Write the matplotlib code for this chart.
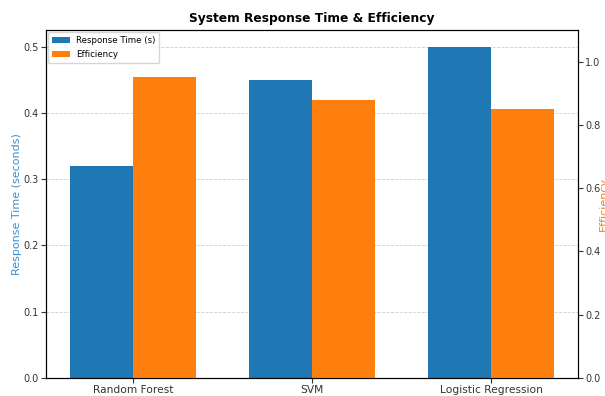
import matplotlib
matplotlib.use("Agg")
import matplotlib.pyplot as plt
import numpy as np

models = ["Random Forest", "SVM", "Logistic Regression"]
response_time = [0.32, 0.45, 0.50]
efficiency = [0.95, 0.88, 0.85]

fig = plt.figure(figsize=(6.05, 3.96), dpi=100)
ax = fig.add_axes([46/605, 1-378/396, (578-46)/605, (378-30)/396])
x = np.arange(len(models))
w = 0.35
b1 = ax.bar(x - w/2, response_time, w, color="#1f77b4", label="Response Time (s)")
ax.set_ylabel("Response Time (seconds)", color="#3b8fd1", fontsize=8)
ax.yaxis.set_label_coords(-0.045, 0.5)
ax.set_xticks(x)
ax.set_xticklabels(models, fontsize=7.7)
ax.tick_params(axis="x", pad=1.5, colors="#333333")
ax.tick_params(axis="y", labelsize=7, colors="#333333", pad=2)
ax.grid(axis="y", linestyle="--", alpha=0.6, linewidth=0.6)
ax.set_axisbelow(True)

ax2 = ax.twinx()
b2 = ax2.bar(x + w/2, efficiency, w, color="#ff7f0e", label="Efficiency")
ax2.set_ylim(0, 1.1)
ax2.set_ylabel("Efficiency", color="#ff7f0e", fontsize=8)
ax2.yaxis.set_label_coords(1.039, 0.5)
ax2.tick_params(axis="y", labelsize=7, colors="#333333", pad=1.5)

ax.set_title("System Response Time & Efficiency", fontsize=8.8, fontweight="bold")
ax.legend([b1, b2], ["Response Time (s)", "Efficiency"], loc="upper left",
          fontsize=6.2, labelspacing=0.6, borderpad=0.45, handlelength=2.1,
          handletextpad=0.7, borderaxespad=0.25)

fig.savefig("out.png", dpi=100)
